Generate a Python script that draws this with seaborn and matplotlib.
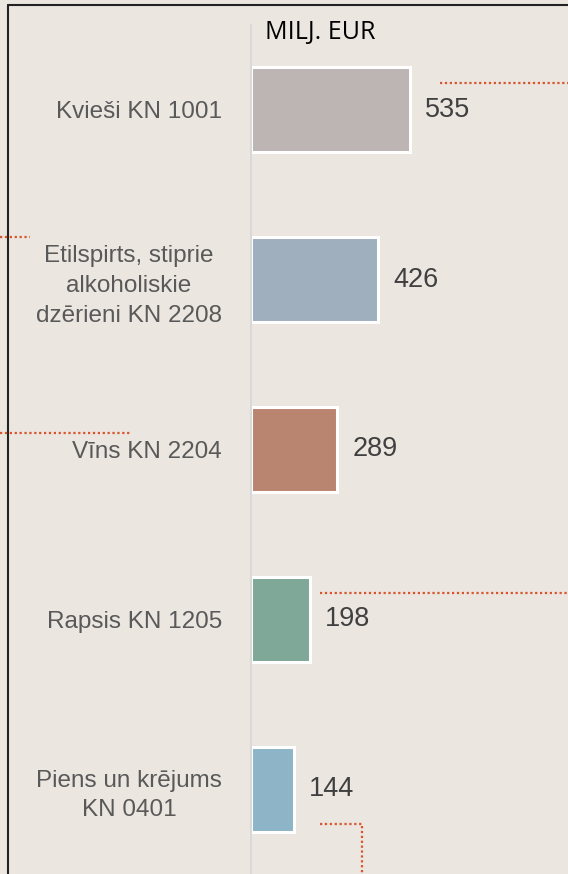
import matplotlib.pyplot as plt
import seaborn as sns
from matplotlib.lines import Line2D

categories = ["Kvieši KN 1001",
              "Etilspirts, stiprie\nalkoholiskie\ndzērieni KN 2208",
              "Vīns KN 2204",
              "Rapsis KN 1205",
              "Piens un krējums\nKN 0401"]
values = [535, 426, 289, 198, 144]
colors = ["#BDB4B4", "#A0AFBE", "#B98571", "#7FA899", "#8DB5C7"]
unit_label = "MILJ. EUR"

bg = "#EBE6E0"
sns.set_theme(style="white")
plt.rcParams['font.family'] = ['Liberation Sans', 'DejaVu Sans']

fig = plt.figure(figsize=(5.68, 8.74), dpi=100, facecolor=bg)
ax = fig.add_axes([251 / 568, 0, 317 / 568, 1 - 25 / 874])
ax.set_facecolor(bg)

sns.barplot(x=values, y=categories, hue=categories, palette=colors,
            saturation=1, width=0.5, edgecolor="white", linewidth=2.2,
            legend=False, ax=ax, orient="h")

ax.set_xlim(0, 1066)
ax.set_ylim(-0.5 + 849 / 171, -0.5)

for c in ax.containers:
    ax.bar_label(c, padding=11, fontsize=19.5, color="#404040")

for s in ["top", "right", "bottom"]:
    ax.spines[s].set_visible(False)
ax.spines["left"].set_color("#D9D9D9")
ax.spines["left"].set_linewidth(1.5)
ax.set_xticks([])
ax.set_xlabel("")
ax.set_ylabel("")
ax.tick_params(axis="y", which="major", length=0, pad=21)
ax.set_yticks([i - 0.5 for i in range(len(categories) + 1)], minor=True)
ax.tick_params(axis="y", which="minor", length=6, width=1.5, color="#D9D9D9")
for t in ax.get_yticklabels():
    t.set_fontsize(17.5)
    t.set_color("#595959")
    t.set_multialignment("center")
    t.set_linespacing(1.45)

fig.text(265 / 568, 1 - 33 / 874, unit_label, fontsize=18, color="black",
         va="center", ha="left", family=["Open Sans", "DejaVu Sans"])

# frame
fig.add_artist(Line2D([8 / 568, 8 / 568], [0, 1 - 5 / 874], transform=fig.transFigure,
                      color="#222222", lw=1.5))
fig.add_artist(Line2D([8 / 568, 1], [1 - 5 / 874, 1 - 5 / 874], transform=fig.transFigure,
                      color="#222222", lw=1.5))

# dotted connector lines
dot = dict(color="#D9542A", lw=1.6, linestyle=(0, (1, 1.2)), transform=fig.transFigure)
paths = [
    ([440, 568], [83, 83]),
    ([0, 30], [237, 237]),
    ([0, 130], [433, 433]),
    ([320, 568], [593, 593]),
    ([320, 362, 362], [824, 824, 874]),
]
for xs, ys in paths:
    fig.add_artist(Line2D([x / 568 for x in xs], [1 - y / 874 for y in ys], **dot))

fig.savefig("out.png", dpi=100, facecolor=bg)
